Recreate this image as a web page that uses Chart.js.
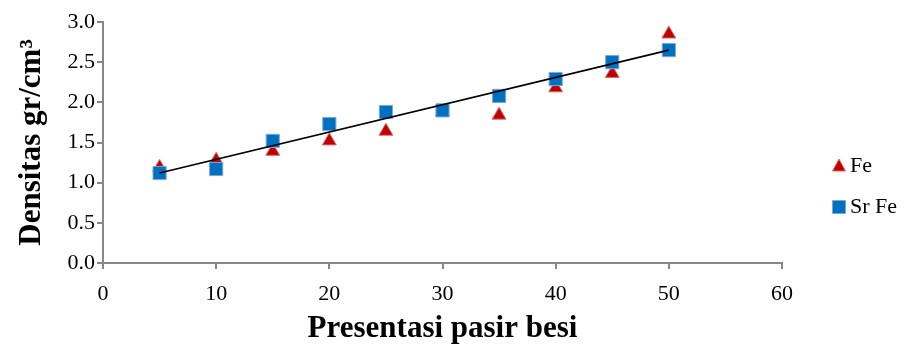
<!DOCTYPE html>
<html>
<head>
<meta charset="utf-8">
<script src="https://cdn.jsdelivr.net/npm/chart.js@4/dist/chart.umd.min.js"></script>
<style>
html,body{margin:0;padding:0;background:#fff;}
#wrap{width:907px;height:348px;position:relative;}
</style>
</head>
<body>
<div id="wrap"><canvas id="c" width="907" height="348"></canvas></div>
<script>
// Data
const xValues = [5, 10, 15, 20, 25, 30, 35, 40, 45, 50];
const feValues = [1.19, 1.28, 1.39, 1.52, 1.64, 1.88, 1.84, 2.18, 2.36, 2.85];
const srFeValues = [1.12, 1.17, 1.52, 1.73, 1.88, 1.90, 2.08, 2.29, 2.50, 2.65];
const trendX = [5, 50];
const trendY = [1.12, 2.65];
const seriesNames = ['Fe', 'Sr Fe'];
const xTitle = 'Presentasi pasir besi';
const yTitle = 'Densitas gr/cm\u00B3';

const FONT = "'Liberation Serif', 'Times New Roman', serif";
const AXIS = '#868686';

const toPts = (xs, ys) => xs.map((x, i) => ({x: x, y: ys[i]}));

const legendPlugin = {
  id: 'sideLegend',
  afterDraw(chart) {
    const ctx = chart.ctx;
    const items = [
      {ds: chart.data.datasets[2], y: 166},
      {ds: chart.data.datasets[1], y: 207}
    ];
    ctx.save();
    items.forEach(it => {
      const ds = it.ds;
      const cx = 839;
      ctx.fillStyle = ds.backgroundColor;
      ctx.strokeStyle = ds.borderColor;
      ctx.lineWidth = 1;
      ctx.beginPath();
      if (ds.pointStyle === 'triangle') {
        ctx.moveTo(cx, it.y - 7);
        ctx.lineTo(cx + 6.5, it.y + 5);
        ctx.lineTo(cx - 6.5, it.y + 5);
        ctx.closePath();
      } else {
        ctx.rect(cx - 6.5, it.y - 6.5, 13, 13);
      }
      ctx.fill();
      ctx.stroke();
      ctx.fillStyle = '#000';
      ctx.font = '22px ' + FONT;
      ctx.textBaseline = 'middle';
      ctx.textAlign = 'left';
      ctx.fillText(ds.label, 850, it.y);
    });
    ctx.restore();
  }
};

new Chart(document.getElementById('c'), {
  type: 'scatter',
  data: {
    datasets: [
      {
        type: 'line',
        label: 'trend',
        data: toPts(trendX, trendY),
        borderColor: '#000',
        borderWidth: 1.6,
        pointRadius: 0,
        fill: false,
        order: 0
      },
      {
        label: seriesNames[1],
        data: toPts(xValues, srFeValues),
        pointStyle: 'rect',
        pointRadius: 9.3,
        backgroundColor: '#0070C0',
        borderColor: '#7AA7DC',
        borderWidth: 1,
        order: 1
      },
      {
        label: seriesNames[0],
        data: toPts(xValues, feValues),
        pointStyle: 'triangle',
        pointRadius: 8,
        backgroundColor: '#C00000',
        borderColor: '#DB6B6B',
        borderWidth: 1,
        order: 2
      }
    ]
  },
  options: {
    responsive: false,
    animation: false,
    devicePixelRatio: 1,
    layout: {
      autoPadding: false,
      padding: {left: 0, right: 125, top: 22, bottom: 0}
    },
    plugins: {
      legend: {display: false},
      tooltip: {enabled: false}
    },
    scales: {
      x: {
        type: 'linear',
        min: 0, max: 60,
        afterFit(s) { s.height = 85; },
        border: {display: true, color: AXIS, width: 2},
        grid: {display: true, drawOnChartArea: false, drawTicks: true, tickLength: 6, color: AXIS, lineWidth: 2},
        ticks: {stepSize: 10, color: '#000', padding: 12, font: {family: FONT, size: 22}},
        title: {display: true, text: xTitle, color: '#000', font: {family: FONT, size: 31, weight: 'bold'}, padding: {top: 0, bottom: 0}}
      },
      y: {
        type: 'linear',
        min: 0, max: 3,
        afterFit(s) { s.width = 103; },
        border: {display: true, color: AXIS, width: 2},
        grid: {display: true, drawOnChartArea: false, drawTicks: true, tickLength: 6, color: AXIS, lineWidth: 2},
        ticks: {stepSize: 0.5, color: '#000', padding: 2, font: {family: FONT, size: 22}, callback: v => v.toFixed(1)},
        title: {display: true, text: yTitle, color: '#000', font: {family: FONT, size: 31, weight: 'bold'}, padding: {top: 13, bottom: 0}}
      }
    }
  },
  plugins: [legendPlugin]
});
</script>
</body>
</html>
